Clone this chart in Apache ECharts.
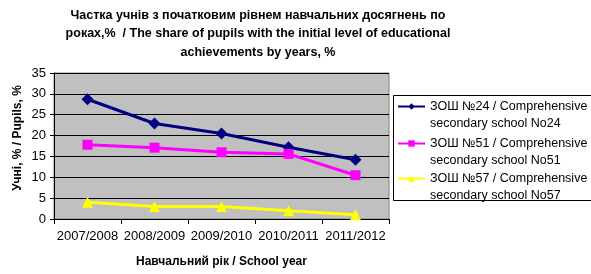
<!DOCTYPE html>
<html><head><meta charset="utf-8">
<script src="https://cdn.jsdelivr.net/npm/echarts@6/dist/echarts.min.js"></script>
<style>html,body{margin:0;padding:0;background:#fff}#c{width:591px;height:274px}</style>
</head><body><div id="c"></div>
<script>
var categories = ['2007/2008', '2008/2009', '2009/2010', '2010/2011', '2011/2012'];
var school24 = [28.7, 22.9, 20.5, 17.2, 14.2];
var school51 = [17.8, 17.1, 16.0, 15.6, 10.5];
var school57 = [4.0, 3.0, 3.0, 2.0, 1.0];
var names = ['ЗОШ №24 / Comprehensive\nsecondary school No24',
             'ЗОШ №51 / Comprehensive\nsecondary school No51',
             'ЗОШ №57 / Comprehensive\nsecondary school No57'];
var titleText = 'Частка учнів з початковим рівнем навчальних досягнень по\nроках,%  / The share of pupils with the initial level of educational\nachievements by years, %';
var FONT = 'Liberation Sans, Arial, sans-serif';
var chart = echarts.init(document.getElementById('c'));
function lg(i, top) {
  return {
    data: [names[i]], orient: 'vertical', left: 397, top: top, padding: 0,
    itemWidth: 27, itemHeight: 8, selectedMode: false,
    formatter: function (n) { return '\n' + n; },
    textStyle: { fontFamily: FONT, fontSize: 12.5, color: '#000', lineHeight: 17 }
  };
}
chart.setOption({
  animation: false,
  title: {
    text: titleText, left: 253, top: 1, textAlign: 'center',
    textStyle: { fontFamily: FONT, fontSize: 12.5, fontWeight: 'bold', color: '#000', lineHeight: 18.5 }
  },
  graphic: [{ type: 'rect', shape: { x: 393.5, y: 95.5, width: 220, height: 105 },
    style: { fill: '#fff', stroke: '#000', lineWidth: 1 }, z: -1 }],
  legend: [lg(0, 81), lg(1, 118), lg(2, 153)],
  grid: { left: 54, top: 73, right: 202, bottom: 55, show: true, backgroundColor: '#C0C0C0', borderColor: '#808080', borderWidth: 1 },
  xAxis: {
    type: 'category', data: categories, boundaryGap: true,
    name: 'Навчальний рік / School year', nameLocation: 'middle', nameGap: 37,
    nameTextStyle: { fontFamily: FONT, fontSize: 12, fontWeight: 'bold', color: '#000' },
    axisLine: { lineStyle: { color: '#000', width: 1 } },
    axisTick: { show: true, length: 5, lineStyle: { color: '#000' } },
    axisLabel: { fontFamily: FONT, fontSize: 13, color: '#000', margin: 11, interval: 0 }
  },
  yAxis: {
    type: 'value', min: 0, max: 35, interval: 5,
    name: 'Учні, % / Pupils, %', nameLocation: 'middle', nameGap: 30, nameRotate: 90,
    nameMoveOverlap: false,
    nameTextStyle: { fontFamily: FONT, fontSize: 12, fontWeight: 'bold', color: '#000', padding: [0, 0, 0, 16] },
    axisLine: { show: true, lineStyle: { color: '#000', width: 1 } },
    axisTick: { show: true, length: 4, lineStyle: { color: '#000' } },
    axisLabel: { fontFamily: FONT, fontSize: 13, color: '#000', margin: 8 },
    splitLine: { lineStyle: { color: '#000', width: 1 } }
  },
  series: [
    { name: names[0], type: 'line', data: school24, symbol: 'diamond', symbolSize: 12,
      itemStyle: { color: '#000080' }, lineStyle: { color: '#000080', width: 3 } },
    { name: names[1], type: 'line', data: school51, symbol: 'rect', symbolSize: 10,
      itemStyle: { color: '#FF00FF' }, lineStyle: { color: '#FF00FF', width: 3 } },
    { name: names[2], type: 'line', data: school57, symbol: 'triangle', symbolSize: 11,
      itemStyle: { color: '#FFFF00' }, lineStyle: { color: '#FFFF00', width: 3 } }
  ]
});
</script></body></html>
